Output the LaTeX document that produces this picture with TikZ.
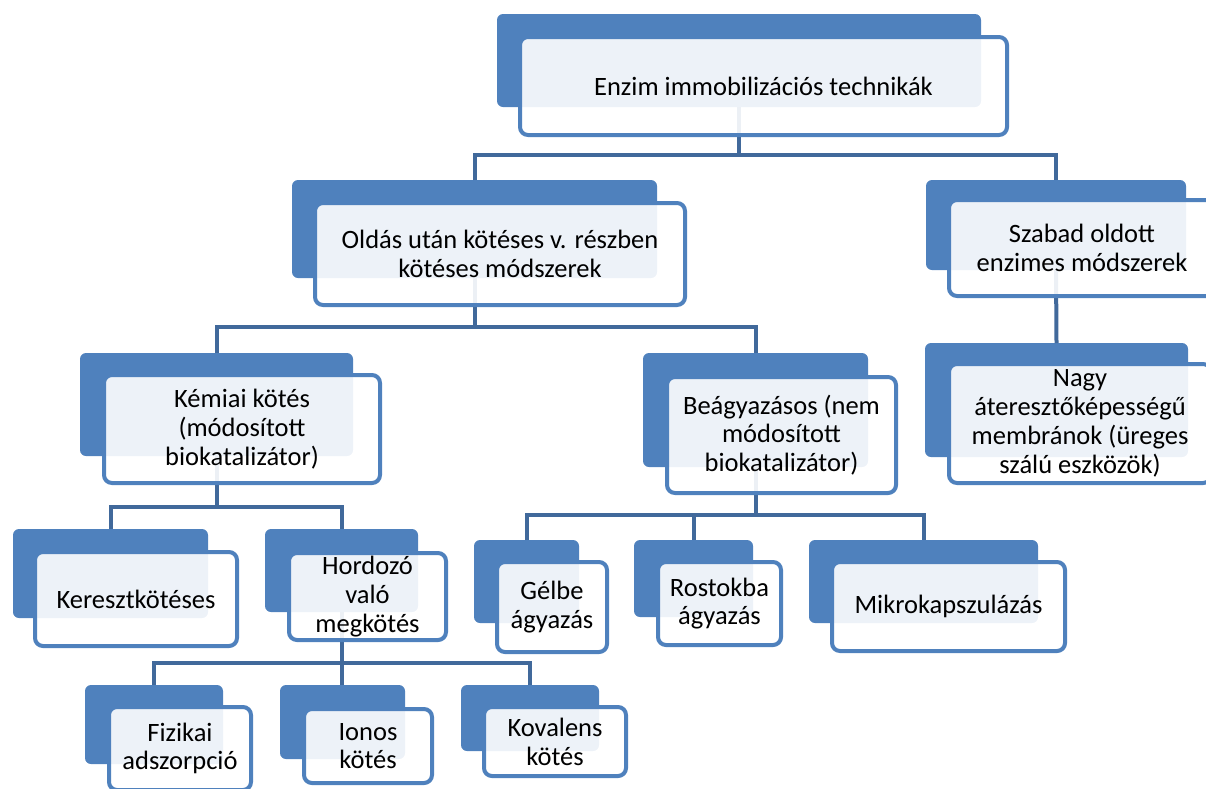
\documentclass[tikz,border=0pt]{standalone}
\usepackage{fontspec}
\setmainfont{Carlito}
\definecolor{bk}{HTML}{4F81BD}
\definecolor{connc}{HTML}{41699B}
\tikzset{
  backbox/.style={fill=bk, rounded corners=6pt, inner sep=0pt, outer sep=0pt},
  frontbox/.style={draw=bk, line width=4pt, fill=white, fill opacity=0.9, text opacity=1,
    rounded corners=8pt, inner sep=0pt, outer sep=0pt, align=center,
    font=\fontsize{26.5}{28.8}\selectfont, text=black},
  conn/.style={draw=connc, line width=4pt}
}
\newcommand\backnode[5]{\node[backbox, minimum width={#4-#2}, minimum height={#5-#3}] (#1) at ({(#2+#4)/2},{(#3+#5)/2}) {};}
\newcommand\frontnode[6]{\node[frontbox, minimum width={#4-#2-4}, minimum height={#5-#3-4}] (#1) at ({(#2+#4)/2},{(#3+#5)/2}) {#6};}
\begin{document}
\begin{tikzpicture}[x=1pt,y=-1pt]
\useasboundingbox (0,0) rectangle (1206,788);
\clip (0,0) rectangle (1206,788);
% back boxes
\backnode{topB}{497}{14}{981}{107}
\backnode{oldB}{292}{180}{657}{278}
\backnode{szaB}{926}{180}{1186}{270}
\backnode{kemB}{80}{353}{353}{456}
\backnode{beaB}{643}{353}{868}{467}
\backnode{nagB}{925}{343}{1188}{457}
\backnode{kerB}{13}{529}{208}{618}
\backnode{horB}{265}{529}{418}{612}
\backnode{gelB}{474}{540}{579}{623}
\backnode{rosB}{634}{540}{753}{617}
\backnode{mikB}{809}{540}{1038}{623}
\backnode{fizB}{85}{685}{223}{764}
\backnode{ionB}{280}{685}{405}{759}
\backnode{kovB}{461}{685}{599}{751}
% connectors
\draw[conn] (topB.south) -- (topB.south |- 0,155);
\draw[conn] (oldB.north) -- (oldB.north |- 0,155) -- (szaB.north |- 0,155) -- (szaB.north);
\draw[conn] (oldB.south) -- (oldB.south |- 0,327);
\draw[conn] (kemB.north) -- (kemB.north |- 0,327) -- (beaB.north |- 0,327) -- (beaB.north);
\draw[conn] (szaB.south) -- (nagB.north);
\draw[conn] (kemB.south) -- (kemB.south |- 0,507);
\draw[conn] (kerB.north) -- (kerB.north |- 0,507) -- (horB.north |- 0,507) -- (horB.north);
\draw[conn] (beaB.south) -- (beaB.south |- 0,515);
\draw[conn] (gelB.north) -- (gelB.north |- 0,515) -- (mikB.north |- 0,515) -- (mikB.north);
\draw[conn] (rosB.north) -- (rosB.north |- 0,515);
\draw[conn] (horB.south) -- (horB.south |- ionB.north);
\draw[conn] (fizB.north) -- (fizB.north |- 0,663) -- (kovB.north |- 0,663) -- (kovB.north);
% front boxes
\frontnode{top}{518}{35}{1009}{137}{Enzim immobilizációs technikák}
\frontnode{old}{313}{201}{687}{307}{Oldás után kötéses v. részben\\kötéses módszerek}
\frontnode{sza}{947}{198}{1217}{298}{Szabad oldott\\enzimes módszerek}
\frontnode{kem}{102}{373}{382}{485}{Kémiai kötés\\(módosított\\biokatalizátor)}
\frontnode{bea}{665}{375}{898}{495}{Beágyazásos (nem\\módosított\\biokatalizátor)}
\frontnode{nag}{947}{362}{1213}{485}{Nagy\\áteresztőképességű\\membránok (üreges\\szálú eszközök)}
\frontnode{ker}{33}{550}{239}{648}{Keresztkötéses}
\frontnode{hor}{287}{551}{448}{642}{Hordozó\\való\\megkötés}
\frontnode{gel}{495}{560}{609}{654}{Gélbe\\ágyazás}
\frontnode{ros}{656}{560}{783}{647}{Rostokba\\ágyazás}
\frontnode{mik}{830}{560}{1067}{653}{Mikrokapszulázás}
\frontnode{fiz}{107}{705}{253}{792}{Fizikai\\adszorpció}
\frontnode{ion}{302}{707}{434}{785}{Ionos\\kötés}
\frontnode{kov}{482}{705}{628}{778}{Kovalens\\kötés}
\end{tikzpicture}
\end{document}
